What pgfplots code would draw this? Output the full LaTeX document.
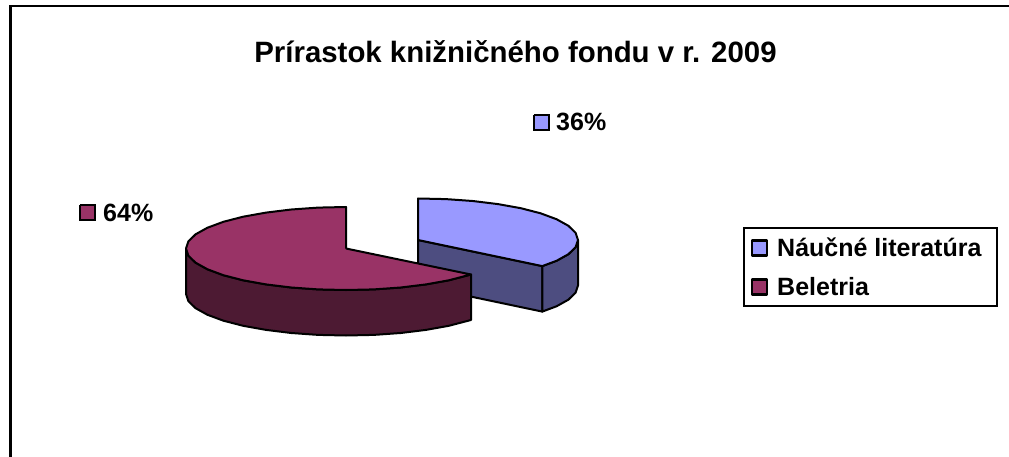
\documentclass[border=0pt]{standalone}
\usepackage{pgfplots}
\pgfplotsset{compat=1.18}
\usepackage{fontspec}
\setmainfont{Liberation Sans}
\definecolor{naucna}{HTML}{9999FF}
\definecolor{naucnaside}{HTML}{4D4D80}
\definecolor{beletria}{HTML}{993366}
\definecolor{beletriaside}{HTML}{4D1A33}
\begin{document}
\begin{tikzpicture}
\useasboundingbox (0,0) rectangle (1009pt,457pt);
\begin{axis}[
    at={(0,0)}, anchor=south west,
    scale only axis,
    width=1009pt, height=457pt,
    xmin=0, xmax=1009, ymin=0, ymax=457,
    y dir=reverse,
    hide axis,
    clip=false,
    legend cell align=left,
    legend image code/.code={
        \draw[#1,line width=2.4pt] (0pt,-7.5pt) rectangle (15pt,7.5pt);
        \path[draw=none,fill=none] (0pt,0pt) -- (23pt,13pt);
    },
    legend style={
        at={(axis cs:743,227)}, anchor=north west,
        draw=black, line width=2pt,
        inner xsep=7pt, inner ysep=7pt,
        font=\bfseries\fontsize{25}{29}\selectfont,
        row sep=14pt,
    },
]
% chart frame (no right or bottom edge)
\addplot[forget plot, black, line width=2.8pt] coordinates {(10.5,457) (10.5,6) (1009,6)};

% Naucna literatura: inner wall, outer wall, top
\addplot[forget plot, draw=black, fill=naucnaside, line width=2pt, line join=round] coordinates {
    (418,240) (542.3,266.1) (542.3,311.6) (418,285.5) (418,240)};
\addplot[forget plot, draw=black, fill=naucnaside, line width=2pt, line join=round] coordinates {
    (578,240) (575.6,247.2) (568.4,254.2) (556.6,260.75) (542.3,266.1)
    (542.3,311.6) (556.6,306.25) (568.4,299.7) (575.6,292.7) (578,285.5) (578,240)};
\addplot[draw=black, fill=naucna, line width=2pt, line join=round] coordinates {
    (418,240) (418,198.5) (445.8,199.1) (472.7,201) (498,204.1) (520.8,208.2)
    (540.6,213.3) (556.6,219.25) (568.4,225.8) (575.6,232.8) (578,240)
    (575.6,247.2) (568.4,254.2) (556.6,260.75) (542.3,266.1) (418,240)};

% Beletria: outer wall, top
\addplot[forget plot, draw=black, fill=beletriaside, line width=2pt, line join=round] coordinates {
    (186,248.5) (188.4,255.7) (195.6,262.7) (207.4,269.25) (223.4,275.2) (243.2,280.3)
    (266,284.4) (291.3,287.5) (318.2,289.4) (346,290) (373.8,289.4) (400.7,287.5)
    (426,284.4) (448.8,280.3) (471,274.5) (471,320) (448.8,325.8) (426,329.9)
    (400.7,333) (373.8,334.9) (346,335.5) (318.2,334.9) (291.3,333) (266,329.9)
    (243.2,325.8) (223.4,320.7) (207.4,314.75) (195.6,308.2) (188.4,301.2) (186,294)
    (186,248.5)};
\addplot[draw=black, fill=beletria, line width=2pt, line join=round] coordinates {
    (346,248.5) (346,207) (318.2,207.6) (291.3,209.5) (266,212.6) (243.2,216.7)
    (223.4,221.8) (207.4,227.75) (195.6,234.3) (188.4,241.3) (186,248.5)
    (188.4,255.7) (195.6,262.7) (207.4,269.25) (223.4,275.2) (243.2,280.3)
    (266,284.4) (291.3,287.5) (318.2,289.4) (346,290) (373.8,289.4) (400.7,287.5)
    (426,284.4) (448.8,280.3) (471,274.5) (346,248.5)};

% data label keys
\addplot[forget plot, draw=black, fill=naucna, line width=2.4pt] coordinates {
    (534,115) (549,115) (549,130) (534,130) (534,115)};
\addplot[forget plot, draw=black, fill=beletria, line width=2.4pt] coordinates {
    (80,205) (95,205) (95,220) (80,220) (80,205)};

\node[anchor=base, font=\bfseries\fontsize{29.4}{33}\selectfont] at (axis cs:515.5,63) {Prírastok knižničného fondu v r. 2009};
\node[anchor=base west, inner sep=0pt, font=\bfseries\fontsize{25}{29}\selectfont] at (axis cs:556,131) {36\%};
\node[anchor=base west, inner sep=0pt, font=\bfseries\fontsize{25}{29}\selectfont] at (axis cs:103,222) {64\%};

\legend{Náučné literatúra\rule{7pt}{0pt}, Beletria}
\end{axis}
\end{tikzpicture}
\end{document}
